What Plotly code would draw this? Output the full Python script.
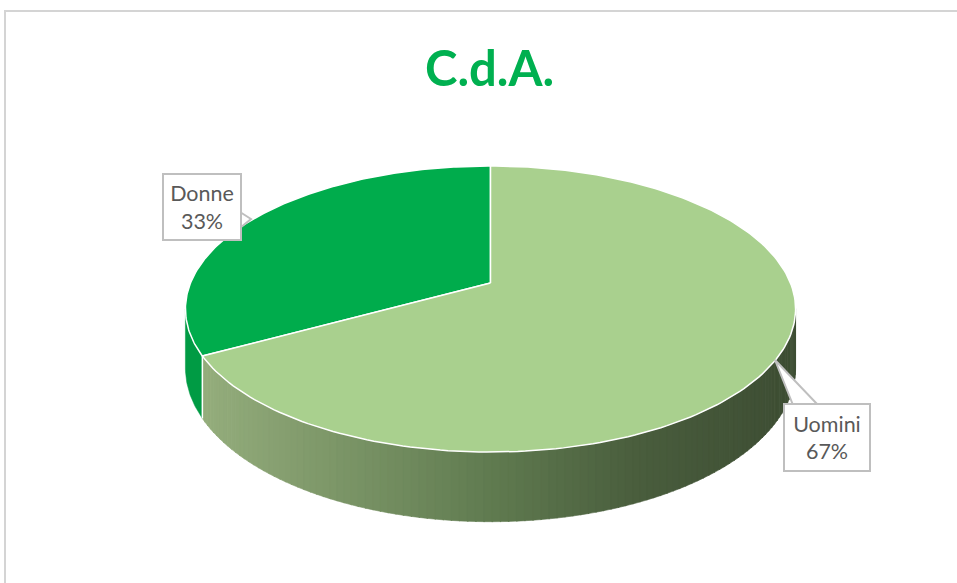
import numpy as np
import plotly.graph_objects as go

# ---- data ----
labels = ["Donne", "Uomini"]
values = [33, 67]
pct_text = ["33%", "67%"]
title = "C.d.A."

top_colors = ["#00AC4C", "#A9D08E"]
side_donne = "#009B44"

# ---- geometry (pixel space) ----
W, H = 957, 583
CX, CY = 490.5, 283.0
A, B, K, D = 300.0, 138.3, 0.1818, 57.0


def proj(phi_deg, drop=0.0):
    p = np.radians(phi_deg)
    X = np.cos(p)
    Z = -np.sin(p)
    s = 1.0 / (1.0 - K * Z)
    return CX + A * X * s, CY + B * Z * s + drop * s


total = float(sum(values))
angles = [90.0]
for v in values:
    angles.append(angles[-1] + 360.0 * v / total)

fig = go.Figure()

vis0 = 180.0 + np.degrees(np.arcsin(K))
vis1 = 360.0 - np.degrees(np.arcsin(K))
bound = angles[1]  # Donne / Uomini boundary (front left)


def side_poly(a0, a1, n=40):
    ph = np.linspace(a0, a1, n)
    xt, yt = proj(ph)
    xb, yb = proj(ph[::-1], D)
    return np.concatenate([xt, xb, xt[:1]]), np.concatenate([yt, yb, yt[:1]])


# Donne side
sx, sy = side_poly(vis0, bound)
fig.add_trace(go.Scatter(x=sx, y=sy, fill="toself", fillcolor=side_donne,
                         line=dict(color=side_donne, width=0.5), mode="lines",
                         hoverinfo="skip", showlegend=False))

# Uomini side with gradient
stops_x = [205, 490, 640, 796]
stops_c = [(148, 173, 124), (96, 123, 80), (73, 93, 61), (61, 77, 51)]


def grad(x):
    c = [np.interp(x, stops_x, [s[i] for s in stops_c]) for i in range(3)]
    return "rgb(%d,%d,%d)" % tuple(int(round(v)) for v in c)


N = 110
edges = np.linspace(bound, vis1, N + 1)
for i in range(N):
    sx, sy = side_poly(edges[i], edges[i + 1] + 0.15, 4)
    xm, _ = proj((edges[i] + edges[i + 1]) / 2)
    col = grad(xm)
    fig.add_trace(go.Scatter(x=sx, y=sy, fill="toself", fillcolor=col,
                             line=dict(color=col, width=0.6), mode="lines",
                             hoverinfo="skip", showlegend=False))

# vertical white edge at boundary
bx0, by0 = proj(bound)
bx1, by1 = proj(bound, D)
fig.add_trace(go.Scatter(x=[bx0, bx1], y=[by0, by1], mode="lines",
                         line=dict(color="white", width=1.5),
                         hoverinfo="skip", showlegend=False))

# top faces
for i, lab in enumerate(labels):
    ph = np.linspace(angles[i], angles[i + 1], 200)
    xa, ya = proj(ph)
    xs = np.concatenate([[CX], xa, [CX]])
    ys = np.concatenate([[CY], ya, [CY]])
    fig.add_trace(go.Scatter(x=xs, y=ys, fill="toself", fillcolor=top_colors[i],
                             line=dict(color="white", width=1.5), mode="lines",
                             name=lab, hoverinfo="skip", showlegend=False))

# ---- labels ----
font_lab = dict(family="Lato, Calibri, sans-serif", size=21.5, color="#595959")
shapes = [
    # chart frame
    dict(type="rect", xref="x", yref="y", x0=5, y0=11, x1=962, y1=590,
         line=dict(color="#D4D4D4", width=2), fillcolor="rgba(0,0,0,0)", layer="below"),
    # Donne callout pointer
    dict(type="path", xref="x", yref="y",
         path="M 240 212 L 251 219 L 240 228 Z",
         fillcolor="white", line=dict(color="#BFBFBF", width=2), layer="above"),
    # Uomini callout pointer
    dict(type="path", xref="x", yref="y",
         path="M 793 405 L 775 360 L 818 405 Z",
         fillcolor="white", line=dict(color="#BFBFBF", width=2), layer="above"),
]

annotations = [
    dict(x=489, y=67, xref="x", yref="y", text="<b>%s</b>" % title, showarrow=False,
         font=dict(family="Lato, Calibri, sans-serif", size=49, color="#00B050"),
         xanchor="center", yanchor="middle"),
    dict(x=202, y=207, xref="x", yref="y", text="%s<br>%s" % (labels[0], pct_text[0]),
         showarrow=False, font=font_lab, bgcolor="white", bordercolor="#BFBFBF",
         borderwidth=2, borderpad=0, width=76, height=64,
         xanchor="center", yanchor="middle"),
    dict(x=827, y=437.5, xref="x", yref="y", text="%s<br>%s" % (labels[1], pct_text[1]),
         showarrow=False, font=font_lab, bgcolor="white", bordercolor="#BFBFBF",
         borderwidth=2, borderpad=0, width=84, height=65,
         xanchor="center", yanchor="middle"),
]

fig.update_layout(
    width=W, height=H, margin=dict(l=0, r=0, t=0, b=0),
    paper_bgcolor="white", plot_bgcolor="white",
    xaxis=dict(range=[0, W], visible=False, fixedrange=True),
    yaxis=dict(range=[H, 0], visible=False, fixedrange=True),
    shapes=shapes, annotations=annotations,
)

fig.write_html("out.html")
